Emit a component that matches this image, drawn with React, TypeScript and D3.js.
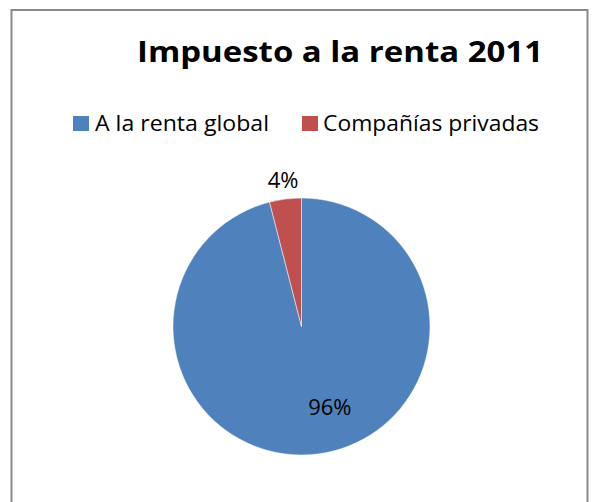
import React from "react";
import * as d3 from "d3";

const categories = ["A la renta global", "Compañías privadas"];
const values = [96, 4];
const colors = ["#4F81BD", "#C0504D"];
const title = "Impuesto a la renta 2011";

const W = 592;
const H = 502;
const cx = 301.5;
const cy = 326.5;
const R = 128.5;
const FONT = "'Open Sans', Lato, sans-serif";

export default function App() {
  const pie = d3.pie<number>().sort(null).startAngle(0).endAngle(2 * Math.PI);
  const arcs = pie(values);
  const arcGen = d3.arc<d3.PieArcDatum<number>>().innerRadius(0).outerRadius(R);
  const total = d3.sum(values);
  const fmt = (v: number) => `${Math.round((v / total) * 100)}%`;

  // label placement: inside for large slice, outside for small
  const labelPos = (a: d3.PieArcDatum<number>) => {
    const mid = (a.startAngle + a.endAngle) / 2;
    if (a.endAngle - a.startAngle > Math.PI) {
      const ang = mid - 0.21;
      const rr = 86;
      return [Math.sin(ang) * rr, -Math.cos(ang) * rr];
    }
    const rr = R + 19;
    return [Math.sin(mid) * rr, -Math.cos(mid) * rr];
  };

  const legendX = [73, 302];
  const legendTextX = [95, 323];
  const legendTextW = [174, 216];

  return (
    <svg width={W} height={H} style={{ position: "absolute", left: 0, top: 0 }}>
      <rect x={0} y={0} width={W} height={H} fill="#fff" />
      <path d={`M11.5,${H + 2} V10 H587.5 V${H + 2}`} fill="none" stroke="#898989" strokeWidth={2} />
      <text x={137} y={62} fontFamily={FONT} fontWeight={700} fontSize={28} fill="#000"
        textLength={406} lengthAdjust="spacingAndGlyphs">{title}</text>
      {categories.map((c, i) => (
        <g key={c}>
          <rect x={legendX[i]} y={116} width={16} height={15} fill={colors[i]} />
          <text x={legendTextX[i]} y={131} fontFamily={FONT} fontSize={22} fill="#000"
            textLength={legendTextW[i]} lengthAdjust="spacingAndGlyphs">{c}</text>
        </g>
      ))}
      <g transform={`translate(${cx},${cy})`}>
        {arcs.map((a, i) => (
          <path key={i} d={arcGen(a) || ""} fill={colors[i]} stroke="#fff" strokeWidth={0.5} />
        ))}
        {arcs.map((a, i) => {
          const [x, y] = labelPos(a);
          return (
            <text key={"l" + i} x={x} y={y} dy="0.35em" textAnchor="middle" fontFamily={FONT} fontSize={22} fill="#000">
              {fmt(a.data)}
            </text>
          );
        })}
      </g>
    </svg>
  );
}
